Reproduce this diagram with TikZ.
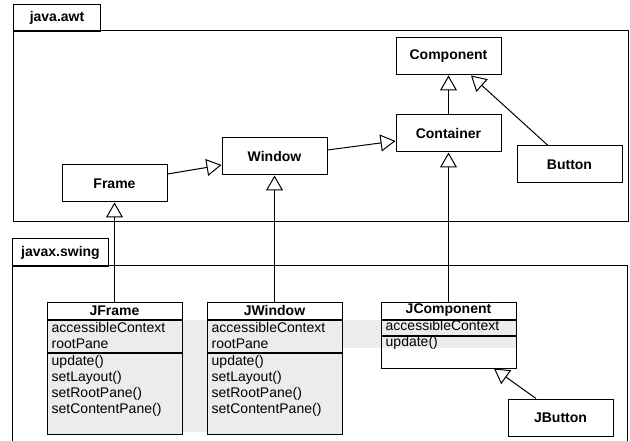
\documentclass[tikz,border=0pt]{standalone}
\usepackage{fontspec}
\setmainfont{Liberation Sans}
\usetikzlibrary{arrows.meta,calc}
\definecolor{hl}{HTML}{ECECEC}
\tikzset{
  txt/.style={font=\fontsize{14}{16}\selectfont},
  boldtxt/.style={font=\bfseries\fontsize{14}{16}\selectfont},
  pkgtab/.style={draw, line width=1pt, boldtxt, inner sep=0pt, anchor=north west},
  simpleclass/.style={draw, line width=1pt, fill=white, boldtxt, minimum width=105pt, minimum height=37pt, inner sep=0pt},
  classtitle/.style={draw, line width=1pt, fill=white, boldtxt, minimum width=135pt, minimum height=17pt, inner sep=0pt},
  classpart/.style={draw, line width=1pt, minimum width=135pt, inner sep=0pt, anchor=north},
  memberlist/.style={txt, align=left, inner xsep=5pt, inner ysep=2.5pt, anchor=north west},
  inherit/.style={line width=1pt, -{Triangle[length=15pt,width=17pt,fill=white]}}
}
\begin{document}
\begin{tikzpicture}[x=1pt,y=-1pt]
\useasboundingbox (0,0) rectangle (630,441);
% packages
\node[pkgtab, minimum width=87pt, minimum height=27pt] (awttab) at (13,4) {java.awt};
\draw[line width=1pt] (13,31) rectangle (628,222);
\node[pkgtab, minimum width=96pt, minimum height=28pt] (swingtab) at (12,238) {javax.swing};
\draw[line width=1pt] (12,266) rectangle (627,460);
% highlight bands
\fill[hl] (47,320) rectangle (342,432);
\fill[hl] (47,320) rectangle (516,348);
% java.awt classes
\node[simpleclass] (component) at (448.5,56.5) {Component};
\node[simpleclass] (container) at (448.5,133.5) {Container};
\node[simpleclass] (button) at (569.5,164.5) {Button};
\node[simpleclass] (window) at (274.5,156.5) {Window};
\node[simpleclass] (frame) at (114.5,183.5) {Frame};
% JFrame
\node[classtitle] (jframe) at (114.5,310.5) {JFrame};
\node[classpart, fill=hl, minimum height=32pt] (jframeattr) at (jframe.south) {};
\node[classpart, fill=hl, minimum height=81pt] (jframemeth) at (jframeattr.south) {};
\node[memberlist] (jframeattrtxt) at (jframeattr.north west) {accessibleContext\\rootPane};
\node[memberlist] (jframemethtxt) at (jframemeth.north west) {update()\\setLayout()\\setRootPane()\\setContentPane()};
% JWindow
\node[classtitle] (jwindow) at (274.5,310.5) {JWindow};
\node[classpart, fill=hl, minimum height=32pt] (jwindowattr) at (jwindow.south) {};
\node[classpart, fill=hl, minimum height=81pt] (jwindowmeth) at (jwindowattr.south) {};
\node[memberlist] (jwindowattrtxt) at (jwindowattr.north west) {accessibleContext\\rootPane};
\node[memberlist] (jwindowmethtxt) at (jwindowmeth.north west) {update()\\setLayout()\\setRootPane()\\setContentPane()};
% JComponent
\node[classtitle] (jcomp) at (448.5,310.5) {JComponent};
\node[classpart, minimum height=15pt] (jcompattr) at (jcomp.south) {};
\node[classpart, minimum height=32pt] (jcompmeth) at (jcompattr.south) {};
\node[memberlist, inner ysep=1pt] (jcompattrtxt) at (jcompattr.north west) {accessibleContext};
\node[memberlist, inner ysep=1pt] (jcompmethtxt) at (jcompmeth.north west) {update()};
% JButton
\node[simpleclass] (jbutton) at (560.5,417.5) {JButton};
% generalizations
\draw[inherit] (container.north) -- (component.south);
\draw[inherit] ($(button.north)+(-21.5,0)$) -- ($(component.south)+(22.5,0)$);
\draw[inherit] ($(window.east)+(0,-6.5)$) -- ($(container.west)+(0,7.5)$);
\draw[inherit] ($(frame.east)+(0,-9.5)$) -- ($(window.west)+(0,8.5)$);
\draw[inherit] (jframe.north) -- (frame.south);
\draw[inherit] (jwindow.north) -- (window.south);
\draw[inherit] (jcomp.north) -- (container.south);
\draw[inherit] ($(jbutton.north)+(-24.5,0)$) -- ($(jcompmeth.south)+(45.5,0)$);
\end{tikzpicture}
\end{document}
